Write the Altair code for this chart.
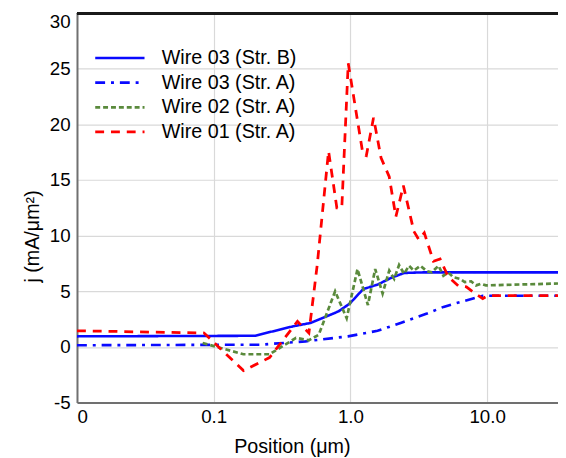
import altair as alt
import pandas as pd

series_names = ["Wire 03 (Str. B)", "Wire 03 (Str. A)", "Wire 02 (Str. A)", "Wire 01 (Str. A)"]
series_colors = ["#0a0aff", "#0a0aff", "#5a8a3c", "#ff0000"]
series_dashes = [[1, 0], [10, 6, 3, 6], [5, 3], [9, 7]]
series_widths = [2.6, 2.8, 2.0, 3.2]

w03b_x = [0.01, 0.2, 0.38, 0.51, 0.67, 0.82, 0.99, 1.24, 1.58, 1.98, 2.47, 3.4, 33]
w03b_y = [0.95, 1.0, 1.85, 2.15, 2.75, 3.2, 3.9, 5.2, 5.6, 6.2, 6.65, 6.7, 6.7]

w03a_x = [0.01, 0.22, 0.47, 0.96, 1.58, 2.33, 3.63, 4.8, 5.8, 7.9, 9.3, 33]
w03a_y = [0.15, 0.2, 0.5, 0.95, 1.45, 2.15, 3.0, 3.6, 3.9, 4.35, 4.6, 4.6]

w02_x = [0.083, 0.165, 0.256, 0.40, 0.497, 0.587, 0.773, 0.939, 1.127, 1.343, 1.518, 1.72,
         1.923, 2.09, 2.27, 2.47, 2.68, 2.91, 3.25, 3.63, 3.94, 4.41, 4.79, 5.2, 5.65,
         6.31, 6.86, 7.64, 8.3, 9.02, 9.8, 33]
w02_y = [0.35, -0.66, -0.66, 0.81, 0.6, 1.1, 5.0, 2.58, 7.0, 3.76, 7.0, 4.8,
         6.86, 6.12, 7.36, 6.57, 7.3, 6.86, 7.3, 6.8, 6.7, 7.3, 6.4, 6.7, 6.27,
         6.12, 5.83, 5.9, 5.53, 5.68, 5.53, 5.7]

w01_x = [0.01, 0.085, 0.165, 0.256, 0.41, 0.497, 0.571, 0.692, 0.796, 0.865, 0.964, 1.236,
         1.308, 1.476, 1.675, 1.923, 2.15, 2.44, 2.91, 3.16, 3.47, 4.05, 4.53, 5.2, 6.14,
         7.05, 7.87, 9.29, 10.1, 33]
w01_y = [1.45, 1.25, -2.13, -0.96, 2.29, 1.26, 7.3, 17.6, 12.5, 12.5, 25.5, 17.3,
         17.2, 20.6, 17.0, 15.3, 11.7, 14.5, 10.4, 9.66, 10.25, 7.7, 7.9, 6.3, 5.5,
         5.4, 4.95, 4.35, 4.6, 4.6]

y_ticks = [-5, 0, 5, 10, 15, 20, 25, 30]
x_ticks = [0.01, 0.1, 1, 10]

rows = []
for name, xs, ys in zip(series_names, [w03b_x, w03a_x, w02_x, w01_x], [w03b_y, w03a_y, w02_y, w01_y]):
    for i, (xv, yv) in enumerate(zip(xs, ys)):
        rows.append({"series": name, "x": xv, "y": yv, "i": i})
df = pd.DataFrame(rows)

FONT = "Liberation Sans"
W, H = 488, 395

legend = alt.Legend(
    title=None, orient="none", legendX=32, legendY=34,
    symbolType="M-2.5,0H2.5", symbolSize=400, labelFontSize=20, labelFont=FONT,
    labelColor="#000000", labelOffset=31, rowPadding=3, padding=0,
    symbolFillColor="transparent",
)

lines = alt.Chart(df).mark_line(clip=True).encode(
    x=alt.X("x:Q",
            scale=alt.Scale(type="log", domain=[0.01, 33], nice=False),
            axis=alt.Axis(values=x_ticks, title="Position (μm)",
                          labelExpr="datum.value < 0.05 ? '0' : datum.value < 0.5 ? '0.1' : datum.value < 5 ? '1.0' : '10.0'",
                          titleX=218, titleY=45, titleBaseline="middle")),
    y=alt.Y("y:Q",
            scale=alt.Scale(domain=[-5, 30], nice=False, zero=False),
            axis=alt.Axis(values=y_ticks, title="j (mA/μm²)",
                          labelExpr="'' + datum.value",
                          labelBaseline={"expr": "datum.value == 30 ? 'top' : 'middle'"},
                          titleX=-45, titleY=226, titleBaseline="middle")),
    color=alt.Color("series:N", scale=alt.Scale(domain=series_names, range=series_colors), legend=legend),
    strokeDash=alt.StrokeDash("series:N", scale=alt.Scale(domain=series_names, range=series_dashes), legend=legend),
    strokeWidth=alt.StrokeWidth("series:N", scale=alt.Scale(domain=series_names, range=series_widths), legend=legend),
    order="i:Q",
    detail="series:N",
)

top_border = alt.Chart(df).mark_rule(color="#1a1a1a", strokeWidth=2).encode(
    x=alt.value(0), x2=alt.value(W), y=alt.value(0)
)

chart = alt.layer(lines, top_border).properties(
    width=W, height=H,
    autosize=alt.AutoSizeParams(type="none"),
    padding={"left": 70, "top": 2, "right": 0, "bottom": 53},
).configure_view(stroke=None).configure_axis(
    labelFont=FONT, titleFont=FONT, labelFontSize=19, titleFontSize=20,
    labelColor="#000000", titleColor="#000000", titleFontWeight="normal",
    grid=True, gridColor="#d9d9d9", gridWidth=1.2,
    ticks=False, domainColor="#707070", domainWidth=2,
).configure_axisX(labelPadding=5).configure_axisY(labelPadding=7)

chart.save("out.html", embed_options={"renderer": "svg", "actions": False})
